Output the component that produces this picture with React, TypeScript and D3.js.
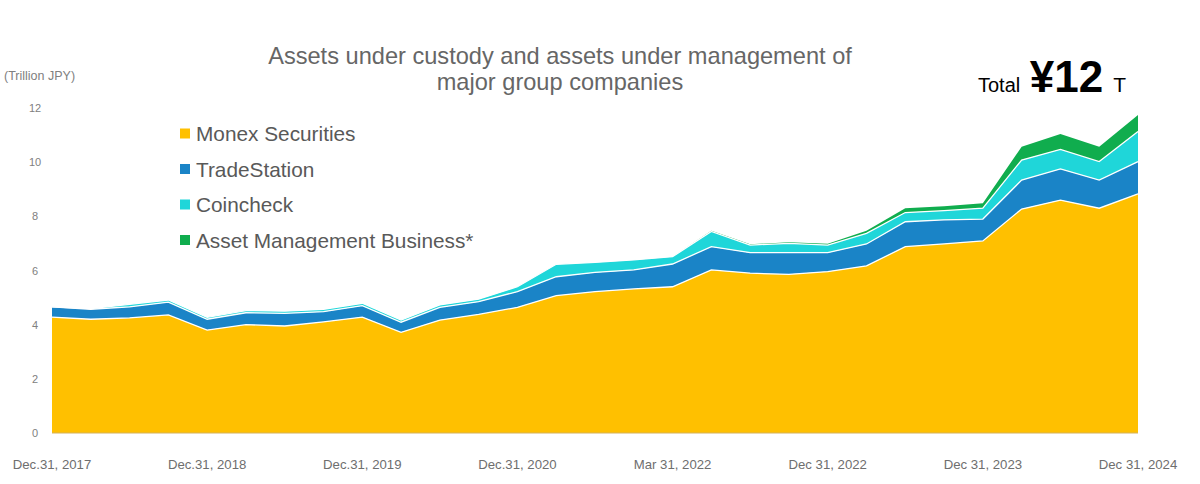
import React from "react";
import * as d3 from "d3";

// quarter-end points, Dec 2017 .. Dec 2024 (29 points); labels every 4th point
const periods = d3.range(29);
const tickLabels = [
  "Dec.31, 2017",
  "Dec.31, 2018",
  "Dec.31, 2019",
  "Dec.31, 2020",
  "Mar 31, 2022",
  "Dec 31, 2022",
  "Dec 31, 2023",
  "Dec 31, 2024",
];

const monex = [4.28, 4.2, 4.25, 4.36, 3.8, 4.0, 3.95, 4.1, 4.28, 3.72, 4.17, 4.38, 4.64, 5.07, 5.22, 5.32, 5.4, 6.02, 5.9, 5.86, 5.96, 6.17, 6.88, 6.98, 7.09, 8.27, 8.6, 8.3, 8.83];
const tradeStation = [0.38, 0.37, 0.41, 0.47, 0.4, 0.44, 0.47, 0.38, 0.42, 0.37, 0.47, 0.47, 0.58, 0.7, 0.71, 0.7, 0.84, 0.86, 0.76, 0.8, 0.7, 0.81, 0.92, 0.89, 0.81, 1.07, 1.15, 1.04, 1.19];
const coincheck = [0, 0.02, 0.09, 0.08, 0.07, 0.08, 0.08, 0.09, 0.09, 0.08, 0.09, 0.09, 0.18, 0.46, 0.37, 0.37, 0.27, 0.56, 0.28, 0.34, 0.28, 0.39, 0.34, 0.34, 0.4, 0.74, 0.72, 0.68, 1.11];
const assetMgmt = [0, 0, 0, 0, 0, 0, 0, 0, 0, 0, 0, 0, 0, 0, 0, 0, 0, 0.03, 0.03, 0.04, 0.05, 0.1, 0.16, 0.16, 0.18, 0.49, 0.57, 0.55, 0.61];

const seriesNames = ["Monex Securities", "TradeStation", "Coincheck", "Asset Management Business*"];
const seriesColors = ["#FFC000", "#1A84C7", "#1FD6D9", "#10AD4E"];
const yTicks = [0, 2, 4, 6, 8, 10, 12];

const W = 1200;
const H = 484;

export default function App() {
  const x = d3.scaleLinear().domain([0, 28]).range([52, 1138]);
  const y = d3.scaleLinear().domain([0, 12]).range([433, 108]);

  const rows = periods.map((i) => ({
    i,
    s0: monex[i],
    s1: tradeStation[i],
    s2: coincheck[i],
    s3: assetMgmt[i],
  }));
  const stacked = d3.stack().keys(["s0", "s1", "s2", "s3"])(rows as any);

  const area = d3
    .area<any>()
    .x((d) => x(d.data.i))
    .y0((d) => y(d[0]))
    .y1((d) => y(d[1]));
  const topLine = d3
    .line<any>()
    .x((d) => x(d.data.i))
    .y((d) => y(d[1]));

  const grey = "#808080";

  return (
    <svg width={W} height={H} style={{ position: "absolute", left: 0, top: 0 }} fontFamily="'Liberation Sans', Arial, sans-serif">
      <rect width={W} height={H} fill="#fff" />

      {stacked.map((layer, k) => (
        <path key={"a" + k} d={area(layer) || ""} fill={seriesColors[k]} />
      ))}
      {stacked.slice(0, 3).map((layer, k) => (
        <path key={"l" + k} d={topLine(layer) || ""} fill="none" stroke="#fff" strokeWidth={1.3} />
      ))}

      <line x1={x(0)} x2={x(28)} y1={y(0)} y2={y(0)} stroke="#d4b25a" strokeWidth={1} />

      {yTicks.map((t) => (
        <text key={t} x={35} y={y(t) + 4} fontSize={11} fill={grey} textAnchor="middle">
          {t}
        </text>
      ))}
      <text x={4} y={80} fontSize={12.5} fill={grey}>
        (Trillion JPY)
      </text>

      {tickLabels.map((lab, k) => (
        <text key={lab} x={x(k * 4)} y={469} fontSize={13.2} fill="#6e6e6e" textAnchor="middle">
          {lab}
        </text>
      ))}

      <text x={560} y={64} fontSize={23.6} fill="#666" textAnchor="middle">
        Assets under custody and assets under management of
      </text>
      <text x={560} y={90} fontSize={23.6} fill="#666" textAnchor="middle">
        major group companies
      </text>

      {seriesNames.map((n, k) => (
        <g key={n} transform={`translate(180, ${134 + k * 35.5})`}>
          <rect x={0} y={-5.5} width={10} height={10} fill={seriesColors[k]} />
          <text x={16} y={7} fontSize={20.8} fill="#595959">
            {n}
          </text>
        </g>
      ))}

      <text x={978} y={92} fill="#000">
        <tspan fontSize={20}>Total </tspan>
        <tspan fontSize={44} fontWeight="bold" dx={4}>
          ¥12
        </tspan>
        <tspan fontSize={21} dx={10}>
          T
        </tspan>
      </text>
    </svg>
  );
}
